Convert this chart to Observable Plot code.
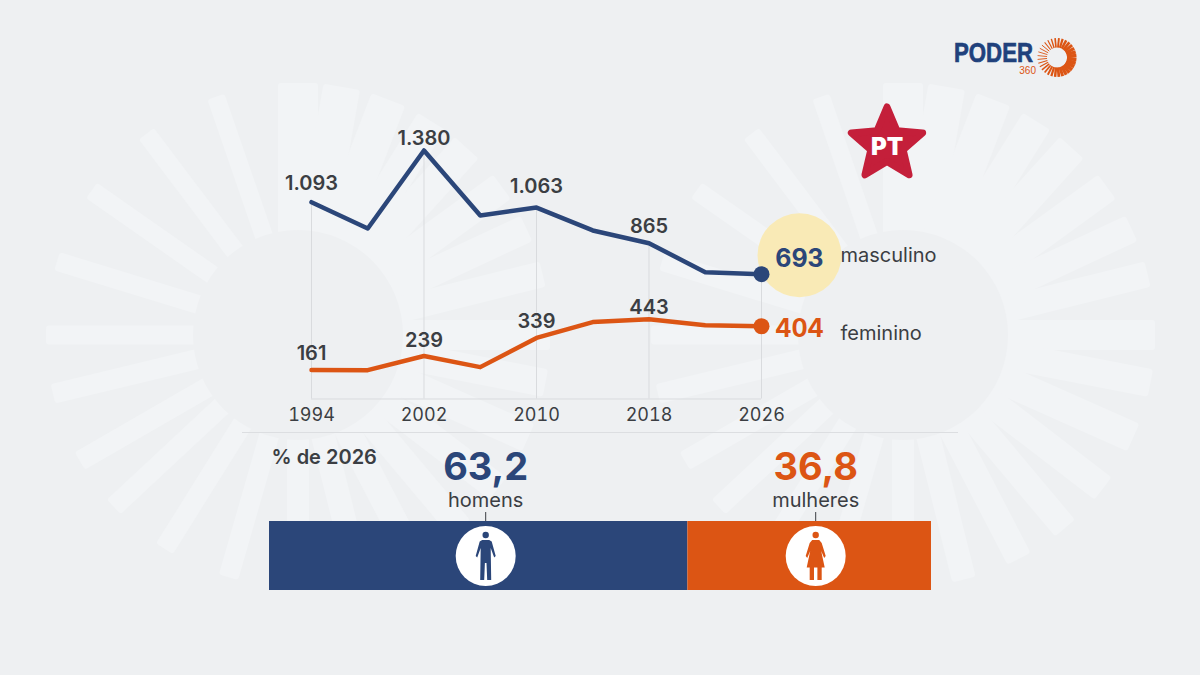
<!DOCTYPE html>
<html lang="pt-BR">
<head>
<meta charset="utf-8">
<script src="https://cdn.jsdelivr.net/npm/d3@7"></script>
<script src="https://cdn.jsdelivr.net/npm/@observablehq/plot@0.6"></script>
<style>
  html, body { margin: 0; padding: 0; background: #eef0f2; }
  #stage { position: relative; width: 1200px; height: 675px; overflow: hidden; background: #eef0f2; font-family: Inter, sans-serif; }
  #stage svg { position: absolute; left: 0; top: 0; background: transparent; }
</style>
</head>
<body>
<div id="stage"></div>
<script>
// ---- data ----
const years = [1994, 1998, 2002, 2006, 2010, 2014, 2018, 2022, 2026];
const masculino = [1093, 947, 1380, 1019, 1063, 936, 865, 704, 693];
const feminino = [161, 160, 239, 177, 339, 427, 443, 410, 404];
const tickYears = [1994, 2002, 2010, 2018, 2026];
const shareNames = ["homens", "mulheres"];
const shareValues = [63.2, 36.8];

// ---- style and layout ----
const NAVY = "#2b4679", ORANGE = "#dc5514", INK = "#3b3e43", GRID = "#d9dbde";
const RAY = "#f2f4f6", BG = "#eef0f2";
const fmt = v => String(v).replace(/\B(?=(\d{3})+$)/g, ".");
const maleRows = years.map((year, i) => ({year, value: masculino[i]}));
const femaleRows = years.map((year, i) => ({year, value: feminino[i]}));
const maleOffset = {1994: -19, 2002: -12, 2010: -21, 2018: -17};
const femaleOffset = {1994: -16, 2002: -15, 2010: -16, 2018: -12};
const stage = document.getElementById("stage");

// ---- decoration: background sunbursts, separator, star, logo ----
const rays = [[180,19],[163,19],[145,19],[127,19],[109,18],[90,40],[80,37],[69,36],[58,32],[48,32],[36,30],[25,28],[14,26],[0,30],[-11,28],[-24,30],[-37.5,28],[-50,26],[-62.6,26],[-76,24],[-90,22],[-106,20],[-122,20],[-137,20],[-150,20],[-166.5,20]];
const decor = d3.create("svg").attr("width", 1200).attr("height", 675).attr("viewBox", "0 0 1200 675");
for (const [cx, cy] of [[298, 335], [903, 335]]) {
  const g = decor.append("g").attr("transform", `translate(${cx},${cy})`);
  g.selectAll("rect").data(rays).join("rect")
    .attr("x", 98).attr("width", 154).attr("y", d => -d[1] / 2).attr("height", d => d[1]).attr("rx", 3)
    .attr("transform", d => `rotate(${-d[0]})`).attr("fill", RAY);
  g.append("circle").attr("r", 105).attr("fill", BG);
}
decor.append("line").attr("x1", 242).attr("x2", 958).attr("y1", 432.5).attr("y2", 432.5).attr("stroke", "#dcdee1");

const starPts = d3.range(10).map(i => {
  const r = i % 2 ? 17 : 37.5, a = i * Math.PI / 5;
  return [887 + r * Math.sin(a), 144.5 - r * Math.cos(a)].join(",");
}).join(" ");
decor.append("polygon").attr("points", starPts).attr("fill", "#c41f3a").attr("stroke", "#c41f3a").attr("stroke-width", 7).attr("stroke-linejoin", "round");
decor.append("text").attr("x", 887).attr("y", 155).attr("text-anchor", "middle").attr("font-family", "Inter").attr("font-weight", 900).attr("font-size", 24).attr("fill", "#fff").text("PT");

decor.append("text").attr("x", 954).attr("y", 62).attr("font-family", "'Liberation Sans Narrow', 'Liberation Sans'").attr("font-weight", 700).attr("font-size", 28).attr("fill", "#20417c").attr("stroke", "#20417c").attr("stroke-width", 0.7).attr("textLength", 79).attr("lengthAdjust", "spacingAndGlyphs").text("PODER");
decor.append("text").attr("x", 1036).attr("y", 74).attr("text-anchor", "end").attr("font-family", "'Liberation Sans Narrow', 'Liberation Sans'").attr("font-size", 10).attr("fill", ORANGE).text("360");
const logoCount = 32;
decor.append("g").attr("transform", "translate(1057,57.5)").selectAll("line").data(d3.range(logoCount)).join("line")
  .attr("x1", 10).attr("x2", 19.5).attr("stroke", ORANGE)
  .attr("stroke-width", i => 2.2 + 1.4 * Math.cos((i + 0.5) / logoCount * 2 * Math.PI - 0.3))
  .attr("transform", i => `rotate(${(i + 0.5) / logoCount * 360})`);
stage.append(decor.node());

// ---- person glyphs for Plot.dot ----
const poly = (ctx, pts) => { pts.forEach((p, i) => i ? ctx.lineTo(p[0], p[1]) : ctx.moveTo(p[0], p[1])); ctx.closePath(); };
const man = { draw(ctx) {
  ctx.moveTo(3.2, -21); ctx.arc(0, -21, 3.2, 0, 2 * Math.PI); ctx.closePath();
  poly(ctx, [[-3.5,-16],[3.5,-16],[6,-14.5],[10,0],[8.5,1.5],[5,-8],[5.5,24],[1.5,24],[0.8,7],[-0.8,7],[-1.5,24],[-5.5,24],[-5,-8],[-8.5,1.5],[-10,0],[-6,-14.5]]);
}};
const woman = { draw(ctx) {
  ctx.moveTo(3.2, -21); ctx.arc(0, -21, 3.2, 0, 2 * Math.PI); ctx.closePath();
  poly(ctx, [[-3.5,-16],[3.5,-16],[6,-13],[10,0],[8.5,2],[5.5,-5],[9,11.5],[6,11.5],[6,24],[1.7,24],[1.7,11.5],[-1.7,11.5],[-1.7,24],[-6,24],[-6,11.5],[-9,11.5],[-5.5,-5],[-8.5,2],[-10,0],[-6,-13]]);
}};

// ---- line chart ----
const lastYear = 2026;
const labelsOf = (rows, offsets) => tickYears.slice(0, 4).map(y =>
  Plot.text(rows.filter(d => d.year === y), {x: "year", y: "value", text: d => fmt(d.value), dy: offsets[y], fill: INK, fontSize: 20, fontWeight: 600}));
const chart = Plot.plot({
  width: 1200, height: 675, margin: 0,
  style: {background: "transparent", fontFamily: "Inter, sans-serif"},
  x: {domain: [1994, 2026], range: [311, 761]},
  y: {domain: [0, 1380], range: [398.5, 150], axis: null},
  marks: [
    Plot.axisX({ticks: tickYears, tickFormat: "d", tickSize: 0, tickPadding: 0, anchor: "bottom", fontSize: 18, color: INK, label: null, dy: -267}),
    Plot.ruleX(maleRows.filter(d => tickYears.includes(d.year)), {x: "year", y1: 0, y2: "value", stroke: GRID}),
    Plot.ruleY([0], {x1: 1994, x2: 2026, stroke: GRID}),
    Plot.dot(maleRows.filter(d => d.year === lastYear), {x: "year", y: "value", r: 42, fill: "#f9eab6", dx: 38, dy: -19}),
    Plot.line(maleRows, {x: "year", y: "value", stroke: NAVY, strokeWidth: 4.5}),
    Plot.line(femaleRows, {x: "year", y: "value", stroke: ORANGE, strokeWidth: 4.5}),
    Plot.dot(maleRows.filter(d => d.year === lastYear), {x: "year", y: "value", r: 8, fill: NAVY}),
    Plot.dot(femaleRows.filter(d => d.year === lastYear), {x: "year", y: "value", r: 8, fill: ORANGE}),
    ...labelsOf(maleRows, maleOffset),
    ...labelsOf(femaleRows, femaleOffset),
    Plot.text(maleRows.filter(d => d.year === lastYear), {x: "year", y: "value", text: "value", dx: 38, dy: -15, fill: NAVY, fontSize: 25, fontWeight: 700}),
    Plot.text(femaleRows.filter(d => d.year === lastYear), {x: "year", y: "value", text: "value", dx: 38, dy: 3, fill: ORANGE, fontSize: 25, fontWeight: 700}),
    Plot.text(maleRows.filter(d => d.year === lastYear), {x: "year", y: "value", text: () => "masculino", dx: 79, dy: -19, textAnchor: "start", fill: INK, fontSize: 20}),
    Plot.text(femaleRows.filter(d => d.year === lastYear), {x: "year", y: "value", text: () => "feminino", dx: 79, dy: 7, textAnchor: "start", fill: INK, fontSize: 20})
  ]
});
stage.append(chart);

// ---- share bar ----
const shareRows = shareNames.map((name, i) => ({
  name, value: shareValues[i],
  x1: d3.sum(shareValues.slice(0, i)), x2: d3.sum(shareValues.slice(0, i + 1)),
  color: i ? ORANGE : NAVY, glyph: i ? woman : man, shift: i ? 6 : 7
}));
const mid = d => (d.x1 + d.x2) / 2;
const perShare = row => [row];
const shareMarks = shareRows.flatMap(row => [
  Plot.rect(perShare(row), {x1: "x1", x2: "x2", y1: 0, y2: 1, fill: "color"}),
  Plot.ruleX(perShare(row), {x: mid, y1: 1, y2: 1.13, stroke: INK, strokeWidth: 1, dx: row.shift}),
  Plot.dot(perShare(row), {x: mid, y: 0.5, r: 30, fill: "#fff", dx: row.shift}),
  Plot.dot(perShare(row), {x: mid, y: 0.5, symbol: () => row.glyph, fill: "color", r: 10, dx: row.shift}),
  Plot.text(perShare(row), {x: mid, y: 1, text: d => String(d.value).replace(".", ","), fill: "color", fontSize: 38, fontWeight: 700, dx: row.shift, dy: -54}),
  Plot.text(perShare(row), {x: mid, y: 1, text: "name", fill: INK, fontSize: 20, dx: row.shift, dy: -21})
]);
const bar = Plot.plot({
  width: 1200, height: 675, margin: 0,
  style: {background: "transparent", fontFamily: "Inter, sans-serif"},
  x: {domain: [0, 100], range: [269, 931], axis: null},
  y: {domain: [0, 1], range: [590, 521], axis: null},
  color: {type: "identity"},
  symbol: {type: "identity"},
  marks: [
    ...shareMarks,
    Plot.text(["% de 2026"], {x: 0, y: 1, text: d => d, textAnchor: "start", fill: INK, fontSize: 20, fontWeight: 600, dx: 2, dy: -64})
  ]
});
stage.append(bar);
</script>
</body>
</html>
